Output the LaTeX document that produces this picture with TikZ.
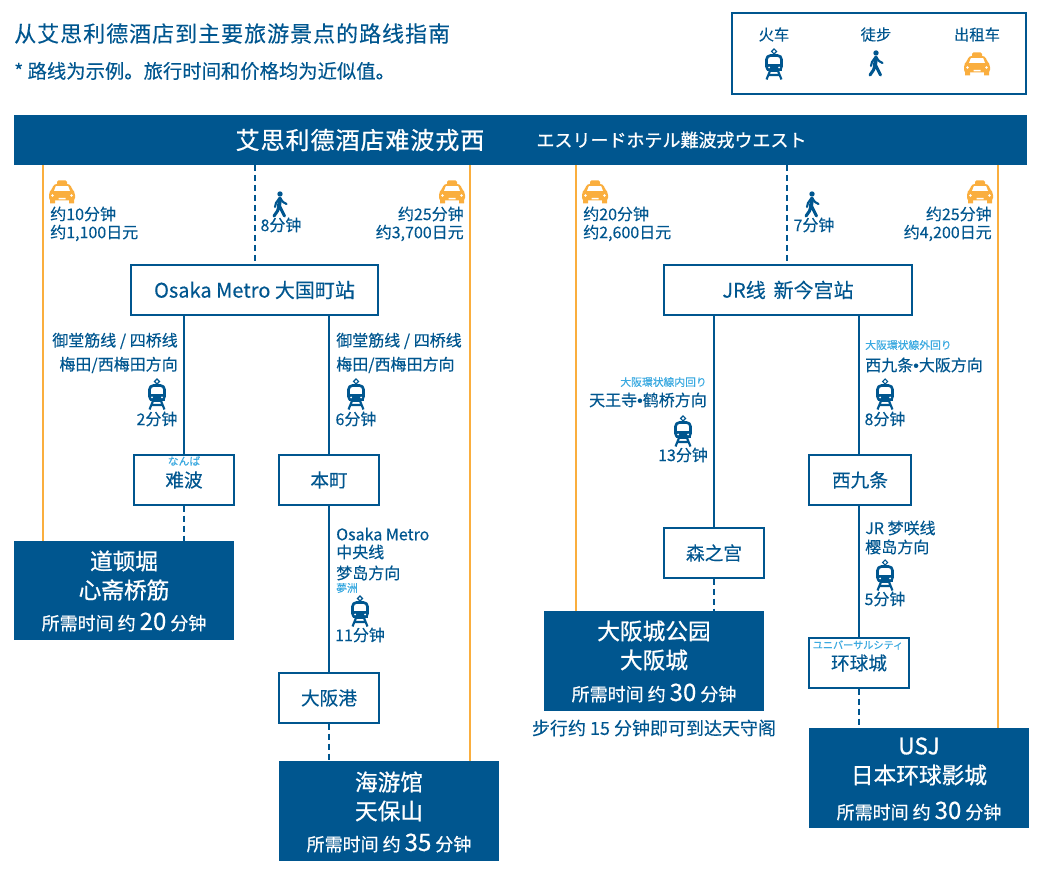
\documentclass[tikz,border=0pt]{standalone}
\usepackage{fontspec}
\setmainfont{Noto Sans CJK SC}[FakeBold=0.25]
\newfontfamily\jpfont{Noto Sans CJK JP}[FakeBold=0.25]
\newfontfamily\dotfont{Liberation Sans}[FakeBold=0.25]
\usetikzlibrary{arrows}

\definecolor{routeblue}{HTML}{00568F}
\definecolor{rubyblue}{HTML}{3AA9E0}
\definecolor{taxiorange}{HTML}{FAAE3E}

\tikzset{
	lbl/.style={text=routeblue,inner sep=0pt,font=\fontsize{12}{14}\selectfont},
	ruby/.style={text=rubyblue,inner sep=0pt,font=\jpfont\fontsize{8.1}{9}\selectfont},
	station/.style={draw=routeblue,line width=1.5pt,fill=white,text=routeblue,inner sep=0pt,font=\fontsize{14}{17}\selectfont},
	dest/.style={fill=routeblue,inner sep=0pt,minimum width=165pt,minimum height=74.5pt},
	desttext/.style={text=white,inner sep=0pt,font=\addfontfeature{FakeBold=0.8}\fontsize{17}{20}\selectfont},
	desttime/.style={text=white,inner sep=0pt,font=\addfontfeature{FakeBold=0.6}\fontsize{13.5}{16}\selectfont},
	metro/.style={draw=routeblue,line width=1.5pt},
	walkline/.style={draw=routeblue,line width=1.5pt,dash pattern=on 4.5pt off 3pt},
	taxiline/.style={draw=taxiorange,line width=1.5pt},
	trainicon/.pic={
		\draw[routeblue,line width=0.8pt] (0,-15) -- (2.5,-12.5) -- (0,-10) -- (-2.5,-12.5) -- cycle;
		\draw[routeblue,line width=2pt,rounded corners=3pt] (-7.5,-8.5) rectangle (7.5,6.5);
		\fill[routeblue] (-7.5,0.5) rectangle (7.5,7.5);
		\fill[white] (-5,3.5) circle (1) (5,3.5) circle (1);
		\draw[routeblue,line width=1.6pt] (-4,7) -- (-7.5,15.5) (4,7) -- (7.5,15.5) (-6,11) -- (6,11);
	},
	walkicon/.pic={
		\fill[routeblue] (0,-10) circle (2.7);
		\draw[routeblue,line width=3pt,line cap=round,line join=round] (0,-5) -- (-1,2);
		\draw[routeblue,line width=1.6pt,line cap=round,line join=round] (0,-6) -- (3,-2) -- (6.5,0) (-0.5,-6) -- (-4,-1) -- (-5,3);
		\draw[routeblue,line width=2.3pt,line cap=round,line join=round] (-1,2) -- (-2.5,7) -- (-6,12) (-0.5,2) -- (2,7) -- (4.5,12);
	},
	taxiicon/.pic={
		\fill[taxiorange,rounded corners=1pt] (-5,-11.5) rectangle (5,-7);
		\fill[taxiorange,rounded corners=2pt] (-8,-8) -- (8,-8) -- (10.5,-2) -- (13,0.5) -- (13,8.5) -- (-13,8.5) -- (-13,0.5) -- (-10.5,-2) -- cycle;
		\fill[taxiorange] (-12,8) rectangle (-7,11.5) (7,8) rectangle (12,11.5);
		\fill[white] (-6.2,-5.8) -- (6.2,-5.8) -- (8,-1) -- (-8,-1) -- cycle;
		\fill[white] (-9.5,3.5) circle (1.4) (9.5,3.5) circle (1.4) (-3.5,5.8) rectangle (3.5,7.5);
	}
}

\begin{document}
\begin{tikzpicture}[x=0.75pt,y=-0.75pt]
	\useasboundingbox (0,0) rectangle (1040,880);

	% heading and legend
	\node[lbl,anchor=west,font=\addfontfeature{LetterSpace=4.5}\fontsize{16.5}{20}\selectfont] (heading) at (14,33.5) {从艾思利德酒店到主要旅游景点的路线指南};
	\node[lbl,anchor=west,font=\fontsize{14.5}{17}\selectfont] (note) at (14,71) {* 路线为示例。旅行时间和价格均为近似值。};

	\node[draw=routeblue,line width=1.5pt,minimum width=221pt,minimum height=61pt,inner sep=0pt] (legend) at (879,53.5) {};
	\node[lbl,font=\fontsize{11.5}{13}\selectfont] (legtrain) at (774,34.5) {火车};
	\node[lbl,font=\fontsize{11.5}{13}\selectfont] (legwalk) at (876,34.5) {徒步};
	\node[lbl,font=\fontsize{11.5}{13}\selectfont] (legtaxi) at (977,34.5) {出租车};
	\pic at (774,64) {trainicon};
	\pic at (876,63) {walkicon};
	\pic at (977,64) {taxiicon};

	% hotel
	\node[fill=routeblue,inner sep=0pt,minimum width=759.75pt,minimum height=37.5pt] (hotel) at (520.5,140) {};
	\node[text=white,inner sep=0pt,font=\addfontfeature{FakeBold=0.8,LetterSpace=4}\fontsize{18}{22}\selectfont] (hotelcn) at (360,140) {艾思利德酒店难波戎西};
	\node[text=white,inner sep=0pt,font=\jpfont\addfontfeature{FakeBold=0.8}\fontsize{13.5}{16}\selectfont] (hoteljp) at (671.5,140) {エスリードホテル難波戎ウエスト};

	% taxi lines
	\coordinate (taxia) at (43,165);
	\coordinate (taxib) at (470,165);
	\coordinate (taxic) at (576,165);
	\coordinate (taxid) at (998,165);

	% stations
	\node[station,font=\fontsize{15}{18}\selectfont,minimum width=185pt,minimum height=37pt] (metrost) at (254.5,290) {Osaka Metro 大国町站};
	\node[station,font=\fontsize{15}{18}\selectfont,minimum width=186pt,minimum height=37pt] (jrst) at (788,290) {JR线\, 新今宫站};
	\node[station,minimum width=75pt,minimum height=37pt] (namba) at (184,480) {\raisebox{1pt}{难波}};
	\node[station,minimum width=75pt,minimum height=37pt] (honmachi) at (329,480) {\raisebox{1pt}{本町}};
	\node[station,minimum width=75pt,minimum height=37pt] (osakako) at (329,698) {大阪港};
	\node[station,minimum width=75pt,minimum height=37pt] (morinomiya) at (714,553) {森之宫};
	\node[station,minimum width=76pt,minimum height=37pt] (nishikujo) at (860,480) {\raisebox{1pt}{西九条}};
	\node[station,minimum width=75pt,minimum height=37pt] (usjst) at (859,663) {环球城};
	\node[ruby] (nambaruby) at (184,461) {なんば};
	\node[ruby,font=\jpfont\fontsize{7.6}{9}\selectfont] (usjruby) at (858,645) {ユニバーサルシティ};

	% destinations
	\node[dest] (dotonbori) at (124,590.5) {};
	\node[dest] (kaiyukan) at (389,811) {};
	\node[dest] (castle) at (654,661) {};
	\node[dest] (usj) at (919,778) {};

	\node[desttext] (dotonboria) at (124,561) {道顿堀};
	\node[desttext] (dotonborib) at (124,590) {心斋桥筋};
	\node[desttime] (dotonboric) at (124,622) {所需时间 约 {\fontsize{18}{20}\selectfont 20} 分钟};
	\node[desttext] (kaiyukana) at (389,782) {海游馆};
	\node[desttext] (kaiyukanb) at (389,811) {天保山};
	\node[desttime] (kaiyukanc) at (389,843) {所需时间 约 {\fontsize{18}{20}\selectfont 35} 分钟};
	\node[desttext] (castlea) at (654,631) {大阪城公园};
	\node[desttext] (castleb) at (654,660) {大阪城};
	\node[desttime] (castlec) at (654,693) {所需时间 约 {\fontsize{18}{20}\selectfont 30} 分钟};
	\node[desttext] (usja) at (919,746) {USJ};
	\node[desttext] (usjb) at (919,775) {日本环球影城};
	\node[desttime] (usjc) at (919,811) {所需时间 约 {\fontsize{18}{20}\selectfont 30} 分钟};
	\node[lbl,font=\fontsize{13.5}{16}\selectfont] (castlenote) at (654,728) {步行约 15 分钟即可到达天守阁};

	\draw[taxiline] (taxia) -- (taxia |- dotonbori.north);
	\draw[taxiline] (taxib) -- (taxib |- kaiyukan.north);
	\draw[taxiline] (taxic) -- (taxic |- castle.north);
	\draw[taxiline] (taxid) -- (taxid |- usj.north);

	% walking lines
	\coordinate (walka) at (255,165);
	\coordinate (walkb) at (787,165);
	\draw[walkline] (walka) -- (walka |- metrost.north);
	\draw[walkline] (walkb) -- (walkb |- jrst.north);
	\draw[walkline] (namba) -- (namba |- dotonbori.north);
	\draw[walkline] (osakako) -- (osakako |- kaiyukan.north);
	\draw[walkline] (morinomiya) -- (morinomiya |- castle.north);
	\draw[walkline] (usjst) -- (usjst |- usj.north);

	% train lines
	\draw[metro] (namba.north |- metrost.south) -- (namba);
	\draw[metro] (honmachi.north |- metrost.south) -- (honmachi);
	\draw[metro] (honmachi) -- (osakako);
	\draw[metro] (morinomiya.north |- jrst.south) -- (morinomiya);
	\draw[metro] (usjst.north |- jrst.south) -- (usjst.north |- nishikujo.north);
	\draw[metro] (usjst.north |- nishikujo.south) -- (usjst);

	% taxi labels
	\foreach \x in {62,452,595,980}
		\pic at (\x,192) {taxiicon};
	\node[lbl,anchor=west] (taxiatime) at (50,214) {约10分钟};
	\node[lbl,anchor=west] (taxiaprice) at (50,233) {约1,100日元};
	\node[lbl,anchor=east] (taxibtime) at (464,214) {约25分钟};
	\node[lbl,anchor=east] (taxibprice) at (464,233) {约3,700日元};
	\node[lbl,anchor=west] (taxictime) at (583,214) {约20分钟};
	\node[lbl,anchor=west] (taxicprice) at (583,233) {约2,600日元};
	\node[lbl,anchor=east] (taxidtime) at (992,214) {约25分钟};
	\node[lbl,anchor=east] (taxidprice) at (992,233) {约4,200日元};

	% walk labels
	\pic at (280,204) {walkicon};
	\pic at (812,204) {walkicon};
	\node[lbl] (walkatime) at (281,225) {8分钟};
	\node[lbl] (walkbtime) at (814,225) {7分钟};

	% metro labels
	\node[lbl,anchor=east] (lineaa) at (178,341) {御堂筋线 / 四桥线};
	\node[lbl,anchor=east] (lineab) at (178,365) {梅田/西梅田方向};
	\pic at (157,394) {trainicon};
	\node[lbl] (lineac) at (157,419) {2分钟};
	\node[lbl,anchor=west] (lineba) at (336,341) {御堂筋线 / 四桥线};
	\node[lbl,anchor=west] (linebb) at (336,365) {梅田/西梅田方向};
	\pic at (356,394) {trainicon};
	\node[lbl] (linebc) at (356,419) {6分钟};
	\node[lbl,anchor=west] (lineca) at (336,534) {Osaka Metro};
	\node[lbl,anchor=west] (linecb) at (336,552) {中央线};
	\node[lbl,anchor=west] (linecc) at (336,573) {梦岛方向};
	\node[ruby,anchor=west] (linecr) at (336,588) {夢洲};
	\pic at (360,611) {trainicon};
	\node[lbl] (linecd) at (360,635) {11分钟};

	% jr labels
	\node[ruby,anchor=east] (linedr) at (707,382) {大阪環状線内回り};
	\node[lbl,anchor=east] (lineda) at (707,400) {天王寺{\dotfont •}鹤桥方向};
	\pic at (683,431) {trainicon};
	\node[lbl] (linedb) at (683,455) {13分钟};
	\node[ruby,anchor=west] (lineer) at (865,345) {大阪環状線外回り};
	\node[lbl,anchor=west] (lineea) at (865,365) {西九条{\dotfont •}大阪方向};
	\pic at (885,394) {trainicon};
	\node[lbl] (lineeb) at (885,419) {8分钟};
	\node[lbl,anchor=west] (linefa) at (865,528) {JR 梦咲线};
	\node[lbl,anchor=west] (linefb) at (865,547) {樱岛方向};
	\pic at (885,575) {trainicon};
	\node[lbl] (linefc) at (885,599) {5分钟};
\end{tikzpicture}
\end{document}
